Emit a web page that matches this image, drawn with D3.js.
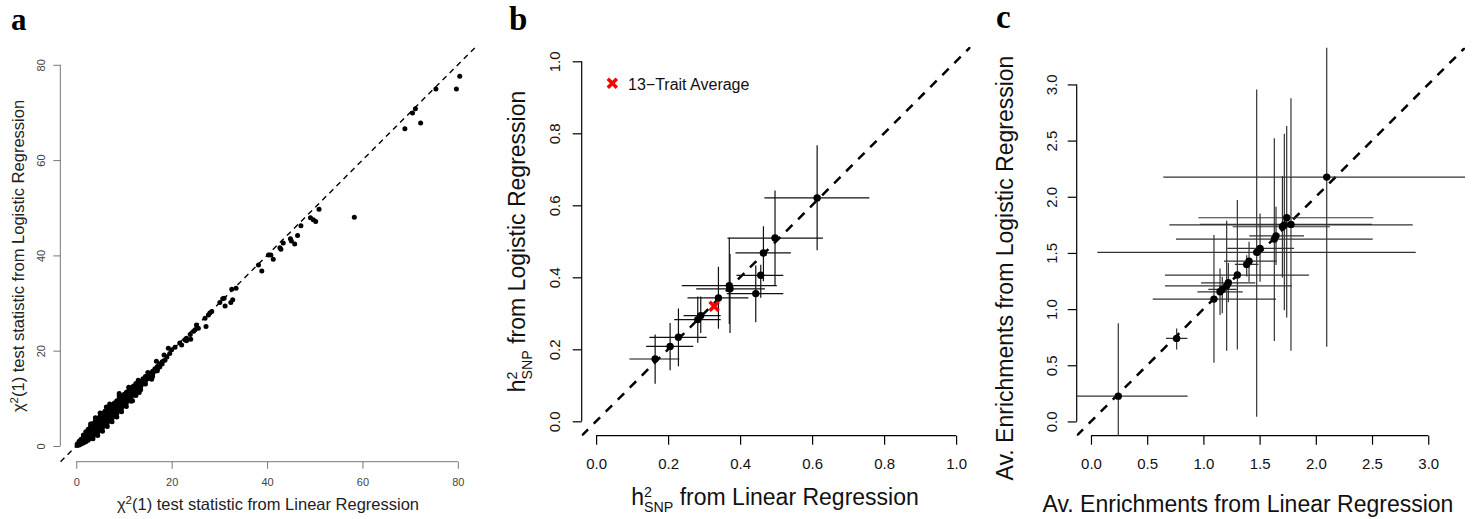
<!DOCTYPE html>
<html>
<head>
<meta charset="utf-8">
<script src="https://cdn.jsdelivr.net/npm/d3@7"></script>
<style>
  body { margin: 0; background: #fff; }
  svg { display: block; font-family: "Liberation Sans", Arial, sans-serif; }
</style>
</head>
<body>
<script>
// ---- panel a: chi2(1) statistics, linear (x) vs logistic (y) ----
// dense band of points near the origin as [linear, logistic]
var bandPoints = [
  [0.2,0.1],[0.2,0.4],[0.6,0.2],[0.6,0.6],[0.6,1.0],[1.0,0.4],[1.0,0.9],[1.0,1.4],
  [1.5,0.6],[1.5,1.2],[1.5,1.8],[1.5,2.3],[2.0,0.9],[2.0,1.6],[2.0,2.3],[2.0,3.0],
  [2.5,1.2],[2.5,2.0],[2.5,2.8],[2.5,3.5],[3.0,1.6],[3.0,2.5],[3.0,3.3],[3.0,4.1],
  [3.5,2.0],[3.5,2.9],[3.5,3.8],[3.5,4.7],[4.0,2.4],[4.0,3.4],[4.0,4.3],[4.0,5.3],
  [4.5,2.8],[4.5,3.8],[4.5,4.8],[4.5,5.8],[5.0,3.3],[5.0,4.3],[5.0,5.3],[5.0,6.3],
  [5.5,3.8],[5.5,4.8],[5.5,5.8],[5.5,6.8],[6.0,4.3],[6.0,5.3],[6.0,6.2],[6.0,7.3],
  [6.5,4.8],[6.5,5.8],[6.5,6.8],[6.5,7.7],[7.0,5.3],[7.0,6.3],[7.0,7.2],[7.0,8.2],
  [7.5,5.8],[7.5,6.8],[7.5,7.7],[7.5,8.6],[8.0,6.3],[8.0,7.2],[8.0,8.1],[8.0,9.0],
  [8.5,6.8],[8.5,7.7],[8.5,8.6],[8.5,9.5],[9.0,7.4],[9.0,8.2],[9.0,9.0],[9.0,9.9],
  [9.5,7.9],[9.5,8.7],[9.5,9.5],[9.5,10.4],[10.0,8.5],[10.0,9.3],[10.0,10.0],[10.0,10.8],
  [10.5,9.0],[10.5,9.8],[10.5,10.5],[10.5,11.3],[11.0,9.6],[11.0,10.3],[11.0,11.0],[11.0,11.7],
  [11.5,10.1],[11.5,10.8],[11.5,11.5],[11.5,12.2],[12.0,10.7],[12.0,11.4],[12.0,12.0],[12.0,12.6],
  [12.5,11.3],[12.5,11.9],[12.5,12.5],[12.5,13.1],[13.0,11.9],[13.0,12.5],[13.0,13.1],
  [13.5,12.4],[13.5,13.0],[13.5,13.6],[14.0,13.0],[14.0,13.5],[14.0,14.1],
  [14.5,13.6],[14.5,14.1],[14.5,14.6],[15.0,14.1],[15.0,14.7],[15.5,14.6],[15.5,15.2],
  [16.0,15.1],[16.0,15.7],[16.5,15.7],[16.5,16.2],[17.0,16.2],[17.0,16.7],
  [17.5,16.6],[17.5,17.2],[18.0,17.2],[18.0,17.7],
  [3.5,1.5],[4.5,2.2],[5.5,3.1],[6.5,4.1],[7.5,5.1],[8.5,6.1],[9.5,7.2],[10.5,8.3],
  [11.5,9.4],[12.5,10.6],[13.5,11.8],[14.5,13.0],[3.0,4.6],[4.0,5.9],[5.0,6.9],[7.0,8.8],
  [9.0,10.5],[11.0,12.3],[13.0,13.8],[15.0,15.4],[16.0,14.6],[17.0,15.8],
  [6.3,8.2],[9.0,11.0],[11.8,9.5],[13.2,11.2],[15.8,14.0],[16.8,17.8],[18.6,18.0],[19.0,18.7],[18.4,19.1]
];
// scattered points further out
var outlierPoints = [
  [19.3,20.5],[19.6,19.4],[20.0,20.2],[20.7,20.7],[21.7,21.6],[22.1,21.2],[22.8,22.3],[23.1,22.6],
  [23.1,22.1],[24.0,22.4],[23.9,23.4],[24.6,24.1],[24.9,24.4],[25.2,25.4],[25.6,24.7],[27.2,25.1],
  [27.0,26.8],[27.7,27.5],[28.4,28.2],[28.0,27.9],[30.1,30.1],[31.0,31.0],[30.7,30.9],[31.2,29.4],
  [32.4,30.1],[32.8,30.7],[32.6,32.9],[33.5,33.1],[38.2,38.0],[38.9,36.7],[40.3,40.1],[40.8,40.1],
  [41.3,39.2],[42.7,41.6],[42.9,41.3],[43.4,42.6],[44.9,43.5],[45.1,43.0],[45.8,42.4],[46.4,44.2],
  [47.1,46.2],[49.1,47.9],[49.7,47.5],[50.2,47.1],[50.9,49.7],[58.3,48.0],[68.9,66.6],[70.5,69.9],
  [71.1,70.8],[72.2,67.8],[75.4,74.9],[79.7,74.9],[80.4,77.6]
];
var aTicks = [0, 20, 40, 60, 80];

// ---- panel b: h2 SNP per trait ----
var hLin   = [0.164, 0.2056, 0.2287, 0.2824, 0.2907, 0.3398, 0.370, 0.372, 0.4435, 0.4574, 0.4648, 0.497, 0.614];
var hLog   = [0.173, 0.208, 0.2333, 0.2825, 0.2936, 0.3427, 0.377, 0.368, 0.3547, 0.4056, 0.4676, 0.509, 0.6205];
var hLinLo = [0.0925, 0.139, 0.148, 0.217, 0.243, 0.254, 0.238, 0.278, 0.363, 0.39, 0.387, 0.365, 0.4675];
var hLinHi = [0.231, 0.270, 0.307, 0.346, 0.346, 0.423, 0.502, 0.469, 0.520, 0.52, 0.541, 0.63, 0.759];
var hLogLo = [0.104, 0.142, 0.153, 0.218, 0.2455, 0.257, 0.270, 0.245, 0.275, 0.343, 0.389, 0.377, 0.475];
var hLogHi = [0.241, 0.273, 0.313, 0.347, 0.347, 0.429, 0.510, 0.465, 0.4325, 0.435, 0.5417, 0.641, 0.767];
var hAverage = [0.3278, 0.3194];
var bTicks = [0, 0.2, 0.4, 0.6, 0.8, 1.0];

// ---- panel c: average enrichments ----
var eLin   = [0.243, 0.762, 1.094, 1.148, 1.168, 1.207, 1.222, 1.302, 1.385, 1.406, 1.474, 1.504, 1.631, 1.646, 1.703, 1.720, 1.741, 1.779, 2.097];
var eLog   = [0.225, 0.739, 1.089, 1.154, 1.175, 1.207, 1.234, 1.303, 1.398, 1.427, 1.505, 1.54, 1.623, 1.652, 1.733, 1.750, 1.813, 1.754, 2.175];
var eLinLo = [-0.35, 0.667, 0.549, 0.947, 1.044, 0.658, 0.979, 0.658, 1.28, 1.183, 0.056, 1.213, 0.756, 1.408, 1.26, 0.697, 0.955, 0.97, 0.643];
var eLinHi = [0.86, 0.857, 1.646, 1.35, 1.296, 1.786, 1.462, 1.94, 1.49, 1.652, 2.889, 1.806, 2.506, 1.895, 2.126, 2.862, 2.512, 2.50, 3.6];
var eLogLo = [-0.4, 0.641, 0.522, 0.947, 0.962, 0.629, 1.06, 0.641, 1.29, 1.243, 0.041, 1.243, 0.715, 1.392, 1.282, 0.99, 0.926, 0.629, 0.664];
var eLogHi = [0.873, 0.828, 1.659, 1.362, 1.288, 1.786, 1.41, 1.971, 1.48, 1.6, 2.956, 1.852, 2.52, 1.911, 2.184, 2.56, 2.63, 2.876, 3.6];
var cTicks = [0, 0.5, 1.0, 1.5, 2.0, 2.5, 3.0];

var svg = d3.select("body").append("svg")
    .attr("width", 1476)
    .attr("height", 519);

// draws R style axes: line only from first to last tick, rotated y labels
function drawAxes(g, x, y, xt, yt, fmt, o) {
    var gx = g.append("g")
        .attr("transform", "translate(0," + o.xAxisY + ")")
        .call(d3.axisBottom(x).tickValues(xt).tickFormat(fmt).tickSize(o.tick));
    gx.select(".domain").remove();
    gx.append("line")
        .attr("x1", x(xt[0])).attr("x2", x(xt[xt.length - 1]))
        .attr("stroke", o.color).attr("stroke-width", o.lw);
    gx.selectAll(".tick line").attr("stroke", o.color).attr("stroke-width", o.lw);
    gx.selectAll("text")
        .attr("y", o.xLab).attr("dy", null)
        .attr("fill", o.textColor)
        .attr("font-size", o.fs)
        .attr("font-family", "Liberation Sans, Arial, sans-serif");

    var gy = g.append("g")
        .attr("transform", "translate(" + o.yAxisX + ",0)")
        .call(d3.axisLeft(y).tickValues(yt).tickFormat(fmt).tickSize(o.tick));
    gy.select(".domain").remove();
    gy.append("line")
        .attr("y1", y(yt[0])).attr("y2", y(yt[yt.length - 1]))
        .attr("stroke", o.color).attr("stroke-width", o.lw);
    gy.selectAll(".tick line").attr("stroke", o.color).attr("stroke-width", o.lw);
    gy.selectAll("text")
        .attr("transform", "rotate(-90)")
        .attr("x", 0).attr("y", -o.yLab).attr("dy", null)
        .attr("text-anchor", "middle")
        .attr("fill", o.textColor)
        .attr("font-size", o.fs)
        .attr("font-family", "Liberation Sans, Arial, sans-serif");
}

// dashed y = x line across the plot box
function identityLine(g, x, y, dash, width) {
    var lo = Math.max(x.domain()[0], y.domain()[0]);
    var hi = Math.min(x.domain()[1], y.domain()[1]);
    g.append("line")
        .attr("x1", x(lo)).attr("y1", y(lo))
        .attr("x2", x(hi)).attr("y2", y(hi))
        .attr("stroke", "#000")
        .attr("stroke-width", width)
        .attr("stroke-dasharray", dash);
}

function panelLabel(txt, px, py, size) {
    svg.append("text")
        .attr("x", px).attr("y", py)
        .attr("font-family", "Liberation Serif, Times New Roman, serif")
        .attr("font-weight", "bold")
        .attr("font-size", size)
        .text(txt);
}

// h^2_SNP title, stacked superscript and subscript
function hTitle(t, rest, fs) {
    var small = fs * 0.62;
    t.append("tspan").text("h");
    t.append("tspan").attr("font-size", small).attr("dy", -fs * 0.36).text("2");
    t.append("tspan").attr("font-size", small).attr("dx", -0.556 * small).attr("dy", fs * 0.36 + fs * 0.29).text("SNP");
    t.append("tspan").attr("dy", -fs * 0.29).text(" from " + rest);
}

function crossMark(g, cx, cy, s, w) {
    g.append("line").attr("x1", cx - s).attr("y1", cy - s).attr("x2", cx + s).attr("y2", cy + s)
        .attr("stroke", "#f00").attr("stroke-width", w);
    g.append("line").attr("x1", cx - s).attr("y1", cy + s).attr("x2", cx + s).attr("y2", cy - s)
        .attr("stroke", "#f00").attr("stroke-width", w);
}

// ================= panel a =================
var ga = svg.append("g");
var ax = d3.scaleLinear().domain([-3.35, 83.6]).range([60.3, 475]);
var ay = d3.scaleLinear().domain([-3.3, 83.8]).range([461.7, 46.7]);

drawAxes(ga, ax, ay, aTicks, aTicks, d3.format("d"), {
    xAxisY: 461.7, yAxisX: 60.3, tick: 7, color: "#777", lw: 1,
    textColor: "#444", fs: 11, xLab: 24, yLab: 15
});
identityLine(ga, ax, ay, "5.5,4.5", 1.4);

ga.selectAll("circle.band")
    .data(bandPoints.concat(outlierPoints))
    .enter()
    .append("circle")
    .attr("cx", d => ax(d[0]))
    .attr("cy", d => ay(d[1]))
    .attr("r", 2.5)
    .attr("fill", "#000");

var aXt = ga.append("text")
    .attr("x", 268).attr("y", 510)
    .attr("text-anchor", "middle")
    .attr("font-size", 16.5)
    .attr("fill", "#222");
aXt.append("tspan").text("\u03c7");
aXt.append("tspan").attr("font-size", 11.5).attr("dy", -6).text("2");
aXt.append("tspan").attr("dy", 6).text("(1) test statistic from Linear Regression");

var aYt = ga.append("text")
    .attr("transform", "translate(24,256) rotate(-90)")
    .attr("text-anchor", "middle")
    .attr("font-size", 16.5)
    .attr("fill", "#222");
aYt.append("tspan").text("\u03c7");
aYt.append("tspan").attr("font-size", 11.5).attr("dy", -6).text("2");
aYt.append("tspan").attr("dy", 6).text("(1) test statistic from Logistic Regression");

panelLabel("a", 11, 30, 31);

// ================= panel b =================
var gb = svg.append("g");
var bx = d3.scaleLinear().domain([-0.04, 1.04]).range([581.7, 970.5]);
var by = d3.scaleLinear().domain([-0.04, 1.04]).range([435.7, 46.9]);

drawAxes(gb, bx, by, bTicks, bTicks, d3.format(".1f"), {
    xAxisY: 435.7, yAxisX: 581.7, tick: 9, color: "#000", lw: 1.2,
    textColor: "#111", fs: 15, xLab: 33, yLab: 21.5
});

gb.append("clipPath").attr("id", "clipB")
    .append("rect").attr("x", 581.7).attr("y", 46.9).attr("width", 388.8).attr("height", 388.8);
var bPlot = gb.append("g").attr("clip-path", "url(#clipB)");
identityLine(bPlot, bx, by, "9,8", 2.5);

var bIdx = d3.range(hLin.length);
bPlot.selectAll("line.hbar").data(bIdx).enter().append("line")
    .attr("x1", i => bx(hLinLo[i])).attr("x2", i => bx(hLinHi[i]))
    .attr("y1", i => by(hLog[i])).attr("y2", i => by(hLog[i]))
    .attr("stroke", "#111").attr("stroke-width", 1.2);
bPlot.selectAll("line.vbar").data(bIdx).enter().append("line")
    .attr("x1", i => bx(hLin[i])).attr("x2", i => bx(hLin[i]))
    .attr("y1", i => by(hLogLo[i])).attr("y2", i => by(hLogHi[i]))
    .attr("stroke", "#111").attr("stroke-width", 1.2);
bPlot.selectAll("circle").data(bIdx).enter().append("circle")
    .attr("cx", i => bx(hLin[i]))
    .attr("cy", i => by(hLog[i]))
    .attr("r", 3.7)
    .attr("fill", "#000");
crossMark(bPlot, bx(hAverage[0]), by(hAverage[1]), 4.5, 3.5);

// legend
crossMark(gb, 612.3, 83.3, 4.5, 3.5);
gb.append("text")
    .attr("x", 628).attr("y", 90)
    .attr("font-size", 16)
    .attr("fill", "#111")
    .text("13\u2212Trait Average");

hTitle(gb.append("text")
    .attr("x", 775).attr("y", 505)
    .attr("text-anchor", "middle")
    .attr("font-size", 23)
    .attr("fill", "#111"), "Linear Regression", 23);
hTitle(gb.append("text")
    .attr("transform", "translate(525,241.5) rotate(-90)")
    .attr("text-anchor", "middle")
    .attr("font-size", 23)
    .attr("fill", "#111"), "Logistic Regression", 23);

panelLabel("b", 509, 30, 33);

// ================= panel c =================
var gc = svg.append("g");
var cx = d3.scaleLinear().domain([-0.127, 3.327]).range([1076.7, 1465]);
var cy = d3.scaleLinear().domain([-0.127, 3.327]).range([435.7, 47.7]);

drawAxes(gc, cx, cy, cTicks, cTicks, d3.format(".1f"), {
    xAxisY: 435.7, yAxisX: 1076.7, tick: 9, color: "#000", lw: 1.2,
    textColor: "#111", fs: 15, xLab: 33, yLab: 20
});

gc.append("clipPath").attr("id", "clipC")
    .append("rect").attr("x", 1076.7).attr("y", 47.7).attr("width", 388.3).attr("height", 388);
var cPlot = gc.append("g").attr("clip-path", "url(#clipC)");
identityLine(cPlot, cx, cy, "9,8", 2.5);

var cIdx = d3.range(eLin.length);
cPlot.selectAll("line.hbar").data(cIdx).enter().append("line")
    .attr("x1", i => cx(eLinLo[i])).attr("x2", i => cx(eLinHi[i]))
    .attr("y1", i => cy(eLog[i])).attr("y2", i => cy(eLog[i]))
    .attr("stroke", "#333").attr("stroke-width", 1.2);
cPlot.selectAll("line.vbar").data(cIdx).enter().append("line")
    .attr("x1", i => cx(eLin[i])).attr("x2", i => cx(eLin[i]))
    .attr("y1", i => cy(eLogLo[i])).attr("y2", i => cy(eLogHi[i]))
    .attr("stroke", "#333").attr("stroke-width", 1.2);
cPlot.selectAll("circle").data(cIdx).enter().append("circle")
    .attr("cx", i => cx(eLin[i]))
    .attr("cy", i => cy(eLog[i]))
    .attr("r", 3.7)
    .attr("fill", "#000");

gc.append("text")
    .attr("x", 1248).attr("y", 511.5)
    .attr("text-anchor", "middle")
    .attr("font-size", 23)
    .attr("fill", "#111")
    .text("Av. Enrichments from Linear Regression");
gc.append("text")
    .attr("transform", "translate(1013,268) rotate(-90)")
    .attr("text-anchor", "middle")
    .attr("font-size", 23)
    .attr("fill", "#111")
    .text("Av. Enrichments from Logistic Regression");

panelLabel("c", 996, 28, 33);
</script>
</body>
</html>
